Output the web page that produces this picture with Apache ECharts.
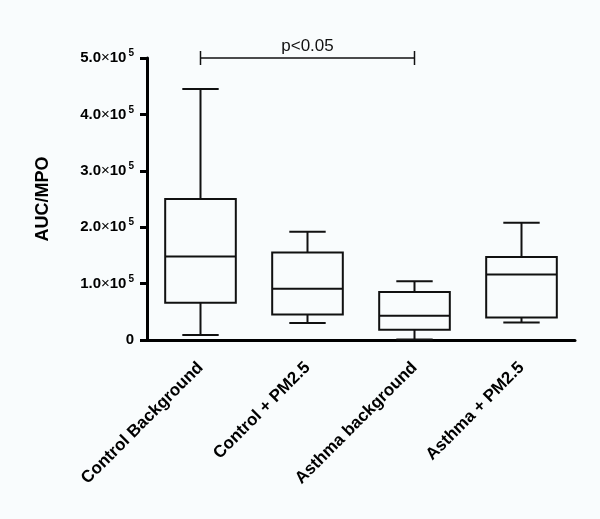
<!DOCTYPE html>
<html>
<head>
<meta charset="utf-8">
<script src="https://cdn.jsdelivr.net/npm/echarts@6/dist/echarts.min.js"></script>
<style>
html,body{margin:0;padding:0;background:#f9fcfd;}
#c{width:600px;height:519px;}
</style>
</head>
<body>
<div id="c"></div>
<script>
const categories = ['Control Background', 'Control + PM2.5', 'Asthma background', 'Asthma + PM2.5'];
// [min, Q1, median, Q3, max]
const boxStats = [
  [9000, 66000, 148000, 250000, 445000],
  [30000, 45000, 91000, 155000, 192000],
  [1000, 18000, 43000, 85000, 104000],
  [31000, 40000, 116000, 147000, 208000]
];
const yTicks = [0, 100000, 200000, 300000, 400000, 500000];
const sigPair = [0, 2];
const sigLevel = 500000;
const sigText = 'p<0.05';

const FONT = 'Liberation Sans, Arial, sans-serif';
const chart = echarts.init(document.getElementById('c'), null, {renderer: 'canvas'});
const boxData = boxStats.map((s, i) => [i].concat(s));

function fmtY(v) {
  if (v === 0) return '{a|0}';
  const e = 5;
  const m = (v / Math.pow(10, e)).toFixed(1);
  return '{a|' + m + '}{x|×}{a|10}{s|' + e + '}';
}

const option = {
  backgroundColor: '#f9fcfd',
  animation: false,
  grid: {left: 147, right: 25, top: 58, bottom: 179},
  xAxis: {
    type: 'category',
    data: categories,
    axisLine: {lineStyle: {color: '#000', width: 3}},
    axisTick: {alignWithLabel: true, length: 7, lineStyle: {color: '#000', width: 3}},
    axisLabel: {rotate: 45, color: '#000', fontWeight: 'bold', fontSize: 17, fontFamily: FONT, margin: 25, interval: 0}
  },
  yAxis: {
    type: 'value',
    min: yTicks[0], max: yTicks[yTicks.length - 1], interval: yTicks[1] - yTicks[0],
    name: 'AUC/MPO',
    nameLocation: 'middle',
    nameRotate: 90,
    nameGap: 95,
    nameTextStyle: {color: '#000', fontWeight: 'bold', fontSize: 18, fontFamily: FONT},
    splitLine: {show: false},
    axisLine: {show: true, lineStyle: {color: '#000', width: 3}},
    axisTick: {show: true, length: 7, lineStyle: {color: '#000', width: 3}},
    axisLabel: {
      margin: 13,
      formatter: fmtY,
      rich: {
        a: {color: '#000', fontWeight: 'bold', fontSize: 15, fontFamily: FONT},
        x: {color: '#000', fontWeight: 'normal', fontSize: 15, fontFamily: FONT},
        s: {color: '#000', fontWeight: 'bold', fontSize: 10, fontFamily: FONT, padding: [0, 0, 9, 2]}
      }
    }
  },
  series: [
    {
      type: 'custom',
      clip: false,
      data: boxData,
      renderItem: function (params, api) {
        const x = api.value(0);
        const band = api.size([1, 0])[0];
        const bw = band * 0.66, cw = band * 0.34;
        const pMin = api.coord([x, api.value(1)]);
        const pQ1 = api.coord([x, api.value(2)]);
        const pMed = api.coord([x, api.value(3)]);
        const pQ3 = api.coord([x, api.value(4)]);
        const pMax = api.coord([x, api.value(5)]);
        const cx = pMed[0];
        const st = {stroke: '#111', lineWidth: 2, fill: null};
        return {
          type: 'group',
          children: [
            {type: 'rect', shape: {x: cx - bw / 2, y: pQ3[1], width: bw, height: pQ1[1] - pQ3[1]}, style: {stroke: '#111', lineWidth: 2, fill: 'rgba(0,0,0,0)'}},
            {type: 'line', shape: {x1: cx - bw / 2, y1: pMed[1], x2: cx + bw / 2, y2: pMed[1]}, style: st},
            {type: 'line', shape: {x1: cx, y1: pQ3[1], x2: cx, y2: pMax[1]}, style: st},
            {type: 'line', shape: {x1: cx, y1: pQ1[1], x2: cx, y2: pMin[1]}, style: st},
            {type: 'line', shape: {x1: cx - cw / 2, y1: pMax[1], x2: cx + cw / 2, y2: pMax[1]}, style: st},
            {type: 'line', shape: {x1: cx - cw / 2, y1: pMin[1], x2: cx + cw / 2, y2: pMin[1]}, style: st}
          ]
        };
      },
      z: 5
    },
    {
      type: 'custom',
      clip: false,
      data: [[sigPair[0], sigPair[1], sigLevel]],
      renderItem: function (params, api) {
        const a = api.coord([api.value(0), api.value(2)]);
        const b = api.coord([api.value(1), api.value(2)]);
        const st = {stroke: '#111', lineWidth: 1.5, fill: null};
        return {
          type: 'group',
          children: [
            {type: 'line', shape: {x1: a[0], y1: a[1], x2: b[0], y2: b[1]}, style: st},
            {type: 'line', shape: {x1: a[0], y1: a[1] - 7, x2: a[0], y2: a[1] + 7}, style: st},
            {type: 'line', shape: {x1: b[0], y1: b[1] - 7, x2: b[0], y2: b[1] + 7}, style: st},
            {type: 'text', style: {text: sigText, x: (a[0] + b[0]) / 2, y: a[1] - 3, align: 'center', verticalAlign: 'bottom', fill: '#111', fontSize: 17, fontFamily: FONT}}
          ]
        };
      },
      z: 6
    }
  ]
};
chart.setOption(option);
</script>
</body>
</html>
